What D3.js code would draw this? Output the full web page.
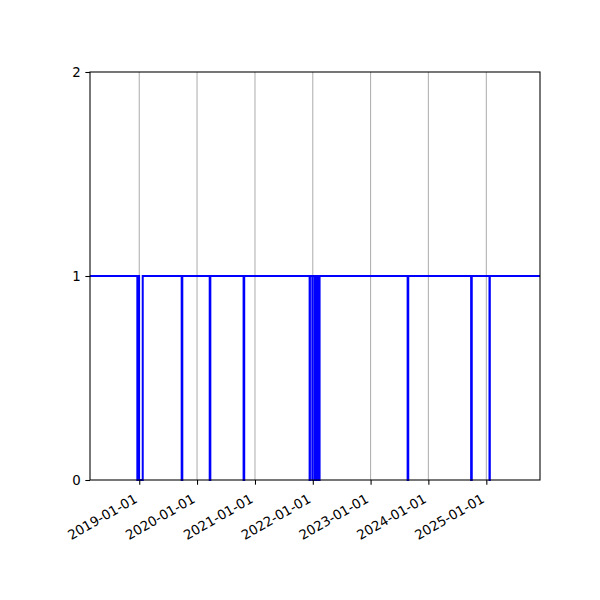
<!DOCTYPE html>
<html>
<head>
<meta charset="utf-8">
<script src="https://cdn.jsdelivr.net/npm/d3@7"></script>
<style>
  body { margin: 0; background: #fff; }
  svg text { font-family: "DejaVu Sans", sans-serif; font-size: 13.33px; fill: #000; }
</style>
</head>
<body>
<div id="chart"></div>
<script>
// dates where the status changes, and the value from that date on
var changeDates = [
  "2018-02-24", "2018-12-20", "2018-12-26", "2018-12-31", "2019-01-23",
  "2019-09-26", "2019-09-30", "2020-03-21", "2020-03-25", "2020-10-21", "2020-10-25",
  "2021-12-12", "2021-12-14", "2021-12-29", "2021-12-31",
  "2022-01-14", "2022-01-16", "2022-01-18", "2022-01-20", "2022-01-22", "2022-01-24",
  "2022-01-26", "2022-01-28", "2022-01-30", "2022-02-01", "2022-02-03", "2022-02-05",
  "2022-02-07", "2022-02-09", "2022-02-11", "2022-02-13",
  "2023-08-23", "2023-08-27", "2024-09-27", "2024-10-01", "2025-01-21", "2025-01-23",
  "2025-12-06"
];
var statusValues = [
  1, 0, 1, 0, 1,
  0, 1, 0, 1, 0, 1,
  0, 1, 0, 1,
  0, 1, 0, 1, 0, 1,
  0, 1, 0, 1, 0, 1,
  0, 1, 0, 1,
  0, 1, 0, 1, 0, 1,
  1
];
var xTickLabels = ["2019-01-01", "2020-01-01", "2021-01-01", "2022-01-01", "2023-01-01", "2024-01-01", "2025-01-01"];
var yTickValues = [0, 1, 2];

var width = 600, height = 600;
var margin = {top: 72, right: 60, bottom: 120, left: 90};

var parse = d3.timeParse("%Y-%m-%d");
var data = changeDates.map(function(d, i) {
  return {date: parse(d), value: statusValues[i]};
});

var svg = d3.select("#chart").append("svg")
  .attr("width", width)
  .attr("height", height);

var x = d3.scaleTime()
  .domain([parse("2018-02-24"), parse("2025-12-06")])
  .range([margin.left, width - margin.right]);

var y = d3.scaleLinear()
  .domain([0, 2])
  .range([height - margin.bottom, margin.top]);

var xTicks = xTickLabels.map(parse);

// griglia verticale
svg.append("g")
  .selectAll("line")
  .data(xTicks)
  .enter()
  .append("line")
  .attr("x1", function(d) { return x(d); })
  .attr("x2", function(d) { return x(d); })
  .attr("y1", y(0))
  .attr("y2", y(2))
  .style("stroke", "#b0b0b0")
  .style("stroke-width", 1.07);

// linea a gradini
var line = d3.line()
  .x(function(d) { return x(d.date); })
  .y(function(d) { return y(d.value); })
  .curve(d3.curveStepAfter);

svg.append("path")
  .datum(data)
  .attr("d", line)
  .style("fill", "none")
  .style("stroke", "#0000ff")
  .style("stroke-width", 2);

// bordo degli assi
svg.append("rect")
  .attr("x", margin.left)
  .attr("y", margin.top)
  .attr("width", width - margin.left - margin.right)
  .attr("height", height - margin.top - margin.bottom)
  .style("fill", "none")
  .style("stroke", "#000")
  .style("stroke-width", 1.07);

// asse x
var xAxis = svg.append("g")
  .attr("transform", "translate(0," + y(0) + ")")
  .call(d3.axisBottom(x).tickValues(xTicks).tickSize(4.67).tickFormat(d3.timeFormat("%Y-%m-%d")));
xAxis.select(".domain").remove();
xAxis.selectAll("line").style("stroke", "#000").style("stroke-width", 1.07);
xAxis.selectAll("text")
  .attr("y", 0)
  .attr("dy", 0)
  .style("text-anchor", "end")
  .attr("transform", "translate(-1.5,21.5) rotate(-30)");

// asse y
var yAxis = svg.append("g")
  .attr("transform", "translate(" + margin.left + ",0)")
  .call(d3.axisLeft(y).tickValues(yTickValues).tickSize(4.67).tickPadding(4.67).tickFormat(d3.format("d")));
yAxis.select(".domain").remove();
yAxis.selectAll("line").style("stroke", "#000").style("stroke-width", 1.07);

svg.selectAll(".tick text").style("font-family", "DejaVu Sans, sans-serif").style("font-size", "13.33px").attr("fill", "#000");
</script>
</body>
</html>
